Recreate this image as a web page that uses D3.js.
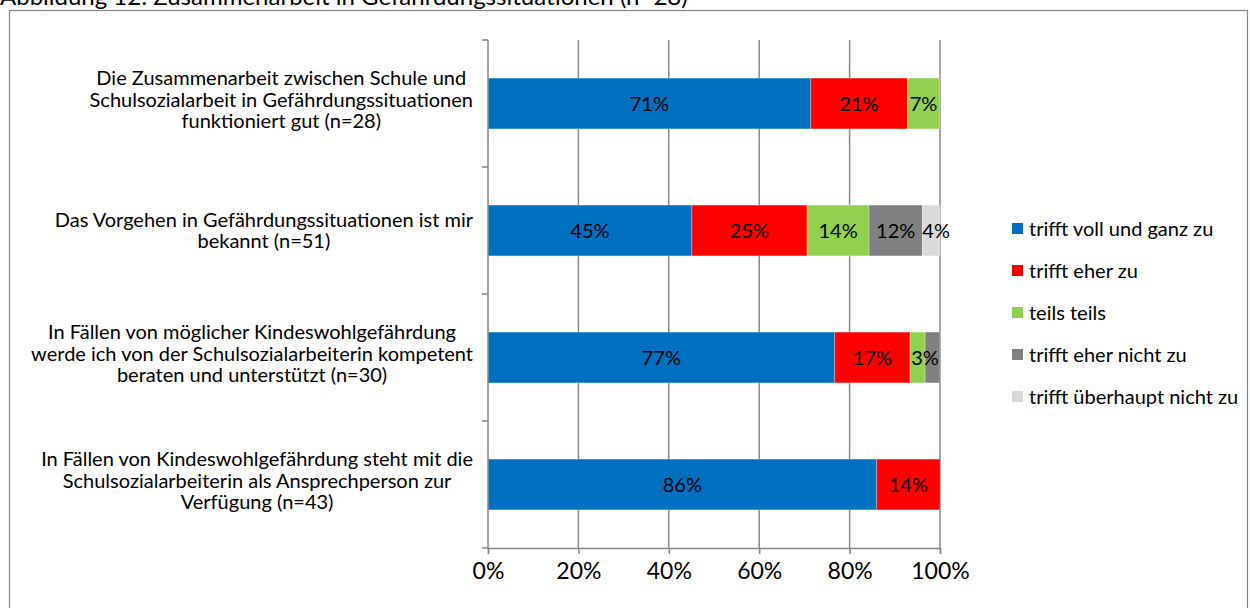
<!DOCTYPE html>
<html>
<head>
<meta charset="utf-8">
<script src="https://cdn.jsdelivr.net/npm/d3@7"></script>
<style>
  html, body { margin: 0; padding: 0; background: #fff; }
  svg { display: block; font-family: Lato, "Open Sans", sans-serif; }
</style>
</head>
<body>
<svg id="chart" width="1250" height="608"></svg>
<script>
  'use strict';

  var TITLE = 'Abbildung 12: Zusammenarbeit in Gefährdungssituationen (n=28)';

  var categories = [
    ['Die Zusammenarbeit zwischen Schule und', 'Schulsozialarbeit in Gefährdungssituationen', 'funktioniert gut (n=28)'],
    ['Das Vorgehen in Gefährdungssituationen ist mir', 'bekannt (n=51)'],
    ['In Fällen von möglicher Kindeswohlgefährdung', 'werde ich von der Schulsozialarbeiterin kompetent', 'beraten und unterstützt (n=30)'],
    ['In Fällen von Kindeswohlgefährdung steht mit die', 'Schulsozialarbeiterin als Ansprechperson zur', 'Verfügung (n=43)']
  ];

  var seriesNames = ['trifft voll und ganz zu', 'trifft eher zu', 'teils teils', 'trifft eher nicht zu', 'trifft überhaupt nicht zu'];
  var seriesColors = ['#0070C0', '#FF0000', '#92D050', '#808080', '#D9D9D9'];

  // percent per category, one array per answer
  var vollUndGanz = [71.4, 45.1, 76.7, 86.0];
  var eherZu = [21.4, 25.5, 16.7, 14.0];
  var teilsTeils = [7.1, 13.7, 3.3, 0];
  var eherNicht = [0, 11.8, 3.3, 0];
  var ueberhauptNicht = [0, 3.9, 0, 0];

  // shown labels ('' = hidden)
  var labelsVoll = ['71%', '45%', '77%', '86%'];
  var labelsEher = ['21%', '25%', '17%', '14%'];
  var labelsTeils = ['7%', '14%', '3%', ''];
  var labelsNicht = ['', '12%', '', ''];
  var labelsUeber = ['', '4%', '', ''];

  var xTicks = [0, 20, 40, 60, 80, 100];

  var series = [vollUndGanz, eherZu, teilsTeils, eherNicht, ueberhauptNicht];
  var labels = [labelsVoll, labelsEher, labelsTeils, labelsNicht, labelsUeber];

  var AXIS = '#868686';
  var PLOT = { left: 488, right: 940, top: 40, bottom: 548 };
  var FONT = 20;

  var svg = d3.select('#chart');

  // title (clipped at the top like the source)
  svg.append('text')
    .attr('x', 0)
    .attr('y', 5)
    .attr('font-size', 24)
    .attr('fill', '#000')
    .text(TITLE);

  // outer frame
  svg.append('rect')
    .attr('x', 9.5)
    .attr('y', 10.5)
    .attr('width', 1238)
    .attr('height', 620)
    .attr('fill', 'none')
    .attr('stroke', AXIS)
    .attr('stroke-width', 1.2);

  var x = d3.scaleLinear().domain([0, 100]).range([PLOT.left, PLOT.right]);
  var y = d3.scaleBand()
    .domain(d3.range(categories.length))
    .range([PLOT.top, PLOT.bottom])
    .paddingInner(0.6)
    .paddingOuter(0.3);

  // gridlines
  svg.append('g')
    .selectAll('line')
    .data(xTicks.slice(1))
    .join('line')
    .attr('x1', function (d) { return x(d); })
    .attr('x2', function (d) { return x(d); })
    .attr('y1', PLOT.top)
    .attr('y2', PLOT.bottom)
    .attr('stroke', AXIS)
    .attr('stroke-width', 1.5);

  // stacked bars
  var stacked = categories.map(function (c, i) {
    var acc = 0;
    return series.map(function (s, k) {
      var seg = { cat: i, k: k, x0: acc, x1: acc + s[i], label: labels[k][i] };
      acc += s[i];
      return seg;
    });
  });
  var segs = d3.merge(stacked).filter(function (d) { return d.x1 > d.x0; });

  var bars = svg.append('g');
  bars.selectAll('rect')
    .data(segs)
    .join('rect')
    .attr('x', function (d) { return x(d.x0); })
    .attr('width', function (d) { return x(d.x1) - x(d.x0); })
    .attr('y', function (d) { return y(d.cat); })
    .attr('height', y.bandwidth())
    .attr('fill', function (d) { return seriesColors[d.k]; })
    .attr('stroke', '#ffffff')
    .attr('stroke-opacity', 0.35)
    .attr('stroke-width', 0.8);

  bars.selectAll('text')
    .data(segs.filter(function (d) { return d.label; }))
    .join('text')
    .attr('x', function (d) {
      var cx = (x(d.x0) + x(d.x1)) / 2;
      // the small 3% label sits on the boundary of the last two segments
      if (d.cat === 2 && d.k === 2) cx = x(d.x1);
      if (d.cat === 1 && d.k === 4) cx += 5;
      return cx;
    })
    .attr('y', function (d) { return y(d.cat) + y.bandwidth() / 2; })
    .attr('dy', '0.35em')
    .attr('text-anchor', 'middle')
    .attr('font-size', FONT)
    .attr('fill', '#000')
    .text(function (d) { return d.label; });

  // y axis
  var yAxis = svg.append('g');
  yAxis.append('line')
    .attr('x1', PLOT.left).attr('x2', PLOT.left)
    .attr('y1', PLOT.top).attr('y2', PLOT.bottom)
    .attr('stroke', AXIS).attr('stroke-width', 1.5);
  var step = y.step();
  yAxis.selectAll('line.tick')
    .data(d3.range(categories.length + 1))
    .join('line')
    .attr('class', 'tick')
    .attr('x1', PLOT.left - 6).attr('x2', PLOT.left)
    .attr('y1', function (i) { return PLOT.top + i * step; })
    .attr('y2', function (i) { return PLOT.top + i * step; })
    .attr('stroke', AXIS).attr('stroke-width', 1.5);

  // x axis
  var xAxis = d3.axisBottom(x)
    .tickValues(xTicks)
    .tickSize(6)
    .tickPadding(9)
    .tickFormat(function (d) { return d + '%'; });
  var gx = svg.append('g')
    .attr('transform', 'translate(0,' + PLOT.bottom + ')')
    .call(xAxis);
  gx.select('.domain').attr('stroke', AXIS).attr('stroke-width', 1.5);
  gx.selectAll('.tick line').attr('stroke', AXIS).attr('stroke-width', 1.5);
  gx.selectAll('.tick text')
    .attr('font-family', 'Lato, sans-serif')
    .attr('font-size', 23)
    .attr('fill', '#000');

  // category labels: centred lines inside a block that ends at the axis
  var LINE_H = 21.7;
  var LABEL_RIGHT = 473;
  categories.forEach(function (lines, i) {
    var g = svg.append('g');
    var texts = g.selectAll('text')
      .data(lines)
      .join('text')
      .attr('font-size', FONT)
      .attr('fill', '#000')
      .attr('text-anchor', 'middle')
      .text(function (d) { return d; });
    var maxW = 0;
    texts.each(function () { maxW = Math.max(maxW, this.getComputedTextLength()); });
    var cy = y(i) + y.bandwidth() / 2 - (lines.length - 2) * 4;
    texts
      .attr('x', LABEL_RIGHT - maxW / 2)
      .attr('y', function (d, j) { return cy + (j - (lines.length - 1) / 2) * LINE_H; })
      .attr('dy', '0.35em');
  });

  // legend
  var legend = svg.append('g').attr('transform', 'translate(1012,229)');
  var item = legend.selectAll('g')
    .data(seriesNames)
    .join('g')
    .attr('transform', function (d, i) { return 'translate(0,' + i * 42 + ')'; });
  item.append('rect')
    .attr('x', 0).attr('y', -6)
    .attr('width', 11).attr('height', 11)
    .attr('fill', function (d, i) { return seriesColors[i]; });
  item.append('text')
    .attr('x', 17)
    .attr('dy', '0.35em')
    .attr('font-size', FONT)
    .attr('fill', '#000')
    .text(function (d) { return d; });
</script>
</body>
</html>
